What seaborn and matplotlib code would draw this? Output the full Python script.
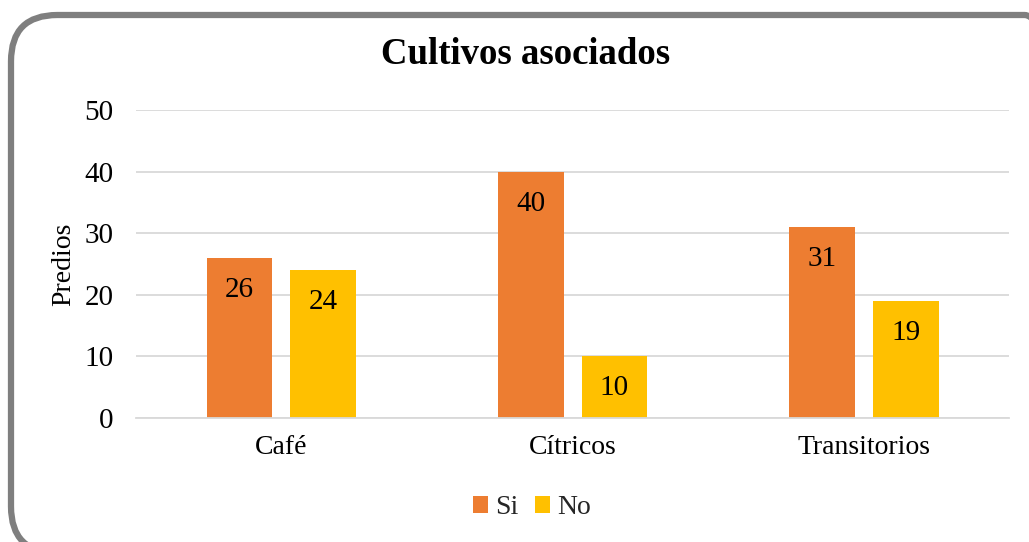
import matplotlib
matplotlib.use("Agg")
import matplotlib.pyplot as plt
import seaborn as sns
import pandas as pd
from matplotlib.patches import FancyBboxPatch

categories = ["Café", "Cítricos", "Transitorios"]
si_values = [26, 40, 31]
no_values = [24, 10, 19]
series = ["Si", "No"]
colors = ["#ED7D31", "#FFC000"]

df = pd.DataFrame({
    "Cultivo": categories * 2,
    "Serie": ["Si"] * 3 + ["No"] * 3,
    "Predios": si_values + no_values,
})

sns.set_theme(style="white")
plt.rcParams["font.family"] = ["Liberation Serif", "DejaVu Serif"]

FS = 21

fig = plt.figure(figsize=(10.29, 5.42), dpi=100)
ax = fig.add_axes([0.132, 0.229, 0.849, 0.568])

sns.barplot(data=df, x="Cultivo", y="Predios", hue="Serie", hue_order=series,
            order=categories, palette=colors, width=0.575, gap=0.214,
            saturation=1, ax=ax, legend=True, linewidth=0)

ax.set_ylim(0, 50)
ax.set_yticks([0, 10, 20, 30, 40, 50])
ax.set_xlim(-0.5, 2.5)
ax.yaxis.grid(True, color="#d9d9d9", linewidth=1.3)
ax.set_axisbelow(True)
for s in ["top", "right", "left"]:
    ax.spines[s].set_visible(False)
ax.spines["bottom"].set_color("#d9d9d9")
ax.spines["bottom"].set_linewidth(1.3)
ax.tick_params(axis="y", length=0, labelsize=FS, colors="black", pad=16)
ax.tick_params(axis="x", length=0, labelsize=20, colors="black", pad=12)
ax.set_xlabel("")
ax.set_ylabel("Predios", fontsize=20, color="black", labelpad=6)

for cont in ax.containers:
    for bar in cont:
        h = bar.get_height()
        ax.annotate(f"{h:.0f}", (bar.get_x() + bar.get_width() / 2, h),
                    xytext=(0, -23), textcoords="offset points",
                    ha="center", va="center", fontsize=FS, color="black")

leg = ax.legend(loc="center", bbox_to_anchor=(532 / 1029, 1 - 508 / 542),
                bbox_transform=fig.transFigure, ncol=2, frameon=False,
                fontsize=20, handlelength=0.55, handleheight=0.55,
                handletextpad=0.25, columnspacing=0.6)

fig.text(526 / 1029, 1 - 55 / 542, "Cultivos asociados", ha="center", va="center",
         fontsize=26.5, fontweight="bold", color="black")

box = FancyBboxPatch((0, 0), 1, 1,
                     boxstyle="round,pad=0,rounding_size=0.045",
                     transform=fig.transFigure, facecolor="none",
                     edgecolor="#7f7f7f", linewidth=4.5, mutation_aspect=1029 / 542)
box.set_bounds(11 / 1029, -0.02, 1.03, 1 - 15 / 542 + 0.02)
fig.patches.append(box)

fig.savefig("out.png", dpi=100, facecolor="white")
